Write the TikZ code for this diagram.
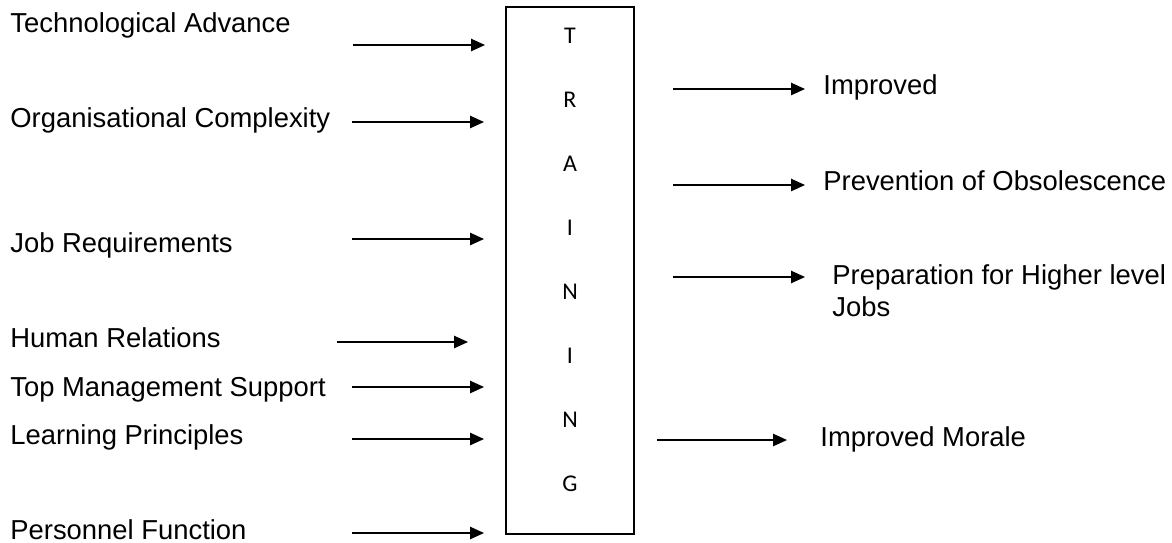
\documentclass[tikz,border=0pt]{standalone}
\usepackage{fontspec}
\setmainfont{Liberation Sans}
\newfontfamily\boxfont{Carlito}
\usepackage{tikz}
\usetikzlibrary{arrows.meta}

\begin{document}
\begin{tikzpicture}[x=0.5pt, y=-0.5pt,
    factor/.style={anchor=base west, inner sep=0pt, font=\fontsize{13.7}{15.75}\selectfont},
    result/.style={anchor=base west, inner sep=0pt, align=left, font=\fontsize{13.7}{15.75}\selectfont},
    letter/.style={anchor=base, inner sep=0pt, font=\boxfont\fontsize{12}{14}\selectfont},
    flow/.style={-{Triangle[length=7pt, width=6.2pt]}, line width=0.7pt}]

    \useasboundingbox (0,0) rectangle (1172,542);

    % Training box
    \node (training) [draw, line width=0.6pt, minimum width=64pt, minimum height=263.5pt] at (570,270.5) {};
    \node (lT)  [letter] at (570,43.5)  {T};
    \node (lR)  [letter] at (570,107.5) {R};
    \node (lA)  [letter] at (570,171.5) {A};
    \node (lI)  [letter] at (570,235.5) {I};
    \node (lN)  [letter] at (570,299.5) {N};
    \node (lI2) [letter] at (570,363.5) {I};
    \node (lN2) [letter] at (570,427.5) {N};
    \node (lG)  [letter] at (570,491.5) {G};

    % Factors on the left
    \node (tech)     [factor] at (10,32)  {Technological Advance};
    \node (complex)  [factor] at (10,127) {Organisational Complexity};
    \node (job)      [factor] at (10,252) {Job Requirements};
    \node (human)    [factor] at (10,347) {Human Relations};
    \node (top)      [factor] at (10,396) {Top Management Support};
    \node (learning) [factor] at (10,444) {Learning Principles};
    \node (personnel)[factor] at (10,539) {Personnel Function};

    % Results on the right (base of a two-line node is its last line)
    \node (improved)   [result] at (823,94)  {Improved};
    \node (prevention) [result] at (823,190) {Prevention of Obsolescence};
    \node (preparation)[result] at (832,316) {Preparation for Higher level\\Jobs};
    \node (morale)     [result] at (820,446) {Improved Morale};

    % Arrow ends
    \coordinate (tech-a) at (353,45);   \coordinate (tech-b) at (485,45);
    \coordinate (complex-a) at (352,122); \coordinate (complex-b) at (484,122);
    \coordinate (job-a) at (352,239);   \coordinate (job-b) at (484,239);
    \coordinate (human-a) at (337,342); \coordinate (human-b) at (468,342);
    \coordinate (top-a) at (352,387);   \coordinate (top-b) at (484,387);
    \coordinate (learning-a) at (352,439); \coordinate (learning-b) at (484,439);
    \coordinate (personnel-a) at (352,533); \coordinate (personnel-b) at (484,533);

    \coordinate (improved-a) at (673,89);    \coordinate (improved-b) at (805,89);
    \coordinate (prevention-a) at (673,185); \coordinate (prevention-b) at (805,185);
    \coordinate (preparation-a) at (673,277); \coordinate (preparation-b) at (805,277);
    \coordinate (morale-a) at (657,440);     \coordinate (morale-b) at (787,440);

    % Arrows into the box
    \draw[flow] (tech-a) -- (tech-b);
    \draw[flow] (complex-a) -- (complex-b);
    \draw[flow] (job-a) -- (job-b);
    \draw[flow] (human-a) -- (human-b);
    \draw[flow] (top-a) -- (top-b);
    \draw[flow] (learning-a) -- (learning-b);
    \draw[flow] (personnel-a) -- (personnel-b);

    % Arrows out of the box
    \draw[flow] (improved-a) -- (improved-b);
    \draw[flow] (prevention-a) -- (prevention-b);
    \draw[flow] (preparation-a) -- (preparation-b);
    \draw[flow] (morale-a) -- (morale-b);

\end{tikzpicture}
\end{document}
